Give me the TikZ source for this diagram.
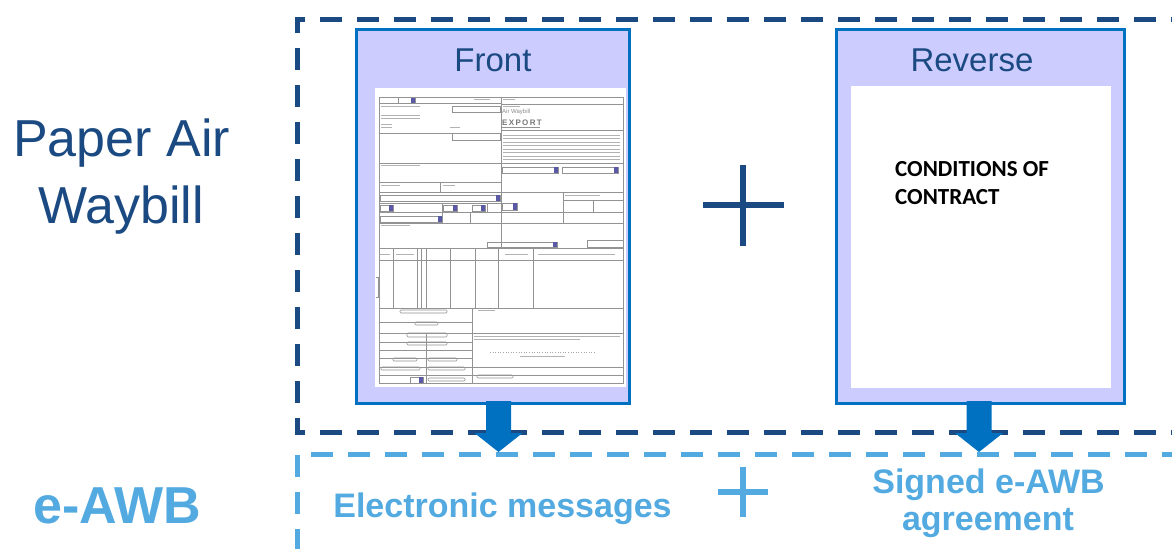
\documentclass[tikz,border=0pt]{standalone}
\usepackage{fontspec}
\setmainfont{Liberation Sans}
\newfontfamily\calfont{Carlito}
\definecolor{navy}{HTML}{1B4A82}
\definecolor{cardblue}{HTML}{0070C0}
\definecolor{cardfill}{HTML}{CCCCFF}
\definecolor{lightblue}{HTML}{52AAE0}
\begin{document}
\begin{tikzpicture}[x=1pt,y=-1pt,
  card/.style={draw=cardblue, line width=3pt, fill=cardfill, inner sep=0pt, anchor=north west},
  page/.style={fill=white, inner sep=0pt, anchor=north west},
  cardtitle/.style={text=navy, font=\fontsize{33}{40}\selectfont, inner sep=0pt, anchor=base},
  bigtitle/.style={text=navy, font=\fontsize{52}{62}\selectfont, inner sep=0pt},
  etitle/.style={text=lightblue, font=\bfseries\fontsize{34}{40}\selectfont, inner sep=0pt, anchor=base},
  condtext/.style={text=black, font=\calfont\bfseries\fontsize{23}{28}\selectfont, inner sep=0pt, anchor=base west},
  darkdash/.style={draw=navy, line width=5pt, dash pattern=on 22pt off 15pt},
  lightdash/.style={draw=lightblue, line width=5pt, dash pattern=on 22pt off 15pt},
  blockarrow/.style={fill=cardblue},
  fl/.style={draw=gray!85, line width=0.6pt},
  ft/.style={draw=gray!60, line width=0.9pt},
  fbox/.style={draw=gray!85, line width=0.6pt},
  fbtn/.style={draw=gray!85, line width=0.6pt, rounded corners=1pt},
  fsq/.style={fill=gray!70!blue}
]
\useasboundingbox (0,0) rectangle (1172,549);
\clip (0,0) rectangle (1172,549);

% dashed frames
\draw[darkdash, dash phase=21pt] (1172,19) -- (297,19) -- (297,432) -- (1172,432);
\draw[lightdash, dash phase=12pt] (1172,454) -- (297,454) -- (297,549);

% left titles
\node[bigtitle, anchor=base west] (paper) at (13,156) {Paper Air};
\node[bigtitle, anchor=base] (waybill) at (121,223) {Waybill};
\node[text=lightblue, font=\bfseries\fontsize{52}{62}\selectfont, inner sep=0pt, anchor=base] (eawb) at (117.5,523) {e-AWB};

% cards
\node[card, minimum width=273pt, minimum height=374pt] (front) at (355,28) {};
\node[card, minimum width=288pt, minimum height=374pt] (reverse) at (835,28) {};
\node[cardtitle] (fronttitle) at (493,71) {Front};
\node[cardtitle] (reversetitle) at (972,71) {Reverse};
\node[page, minimum width=251pt, minimum height=299pt] (form) at (375,88) {};
\node[page, minimum width=260pt, minimum height=302pt] (revpage) at (851,86) {};
\node[condtext] (cond1) at (895,176) {CONDITIONS OF};
\node[condtext] (cond2) at (895,204) {CONTRACT};

% ---- air waybill form (front) ----
\draw[fl] (379,97) rectangle (623,383);
\draw[fl] (501,97) -- (501,248);
\foreach \y in {103,133,163,182,192,203,212}{\draw[fl] (379,\y) -- (501,\y);}
\foreach \y in {104,130,163,192,212}{\draw[fl] (501,\y) -- (623,\y);}
\draw[fl] (563,192) -- (563,223);
\draw[fl] (563,200) -- (623,200);
\draw[fl] (593,200) -- (593,212);
\draw[fl] (440,182) -- (440,192);
\draw[fl] (442,203) -- (442,223);
\draw[fl] (470,212) -- (470,223);
\draw[fl] (487,203) -- (487,212);
\draw[fl] (379,223) -- (623,223);
\draw[fl] (379,248) -- (623,248);
\draw[fl] (379,260) -- (623,260);
\foreach \x in {393,417,421,426,450,475,498,533}{\draw[fl] (\x,248) -- (\x,308);}
\draw[fl] (379,308) -- (623,308);
\draw[fl] (472,308) -- (472,383);
\draw[fl] (426,333) -- (426,383);
\foreach \y in {322,333,342,350,358,367,375}{\draw[fl] (379,\y) -- (472,\y);}
\foreach \y in {333,367,375}{\draw[fl] (472,\y) -- (623,\y);}
\draw[fl] (376,277) -- (378,277) -- (378,297) -- (376,297);
% boxes and dropdowns
\draw[fbox] (398,97) rectangle (415,103);
\fill[fsq] (411,98) rectangle (415,103);
\draw[fbox] (452,106) rectangle (500,112);
\draw[fbox] (452,133) rectangle (500,140);
\draw[fbox] (502,167) rectangle (558,173);
\fill[fsq] (554,167) rectangle (558,173);
\draw[fbox] (562,167) rectangle (618,173);
\fill[fsq] (614,167) rectangle (618,173);
\draw[fbox] (380,195) rectangle (500,201);
\fill[fsq] (496,195) rectangle (500,201);
\draw[fbox] (380,205) rectangle (393,211);
\fill[fsq] (389,205) rectangle (393,211);
\draw[fbox] (443,205) rectangle (457,211);
\fill[fsq] (453,205) rectangle (457,211);
\draw[fbox] (472,205) rectangle (485,211);
\fill[fsq] (481,205) rectangle (485,211);
\draw[fbox] (380,216) rectangle (442,222);
\fill[fsq] (438,216) rectangle (442,222);
\draw[fbox] (502,203) rectangle (517,210);
\fill[fsq] (513,203) rectangle (517,210);
\draw[fbox] (487,242) rectangle (557,247);
\fill[fsq] (553,242) rectangle (557,247);
\draw[fbox] (587,240) rectangle (623,247);
\draw[fbox] (410,377) rectangle (423,383);
\fill[fsq] (419,377) rectangle (423,383);
% buttons
\draw[fbtn] (400,310) rectangle (447,313);
\draw[fbtn] (415,322) rectangle (438,325);
\draw[fbtn] (407,333) rectangle (447,337);
\draw[fbtn] (407,342) rectangle (447,345);
\draw[fbtn] (393,358) rectangle (417,361);
\draw[fbtn] (428,358) rectangle (457,361);
\draw[fbtn] (381,367) rectangle (420,370);
\draw[fbtn] (428,367) rectangle (465,370);
\draw[fbtn] (428,378) rectangle (465,381);
\draw[fbtn] (477,375) rectangle (513,378);
% small printed text (rendered as grey strokes)
\foreach \y in {135,138.5,142,145.5,149,152.5,156,159.5}{\draw[ft] (503,\y) -- (620,\y);}
\foreach \y in {106,115,118}{\draw[ft] (381,\y) -- (420,\y);}
\foreach \y in {124,127}{\draw[ft] (381,\y) -- (392,\y);}
\draw[ft] (450,127) -- (460,127);
\draw[ft] (381,165) -- (420,165);
\draw[ft] (381,185) -- (400,185);
\draw[ft] (443,185) -- (455,185);
\draw[ft] (381,225) -- (410,225);
\draw[ft] (380,254) -- (390,254);
\draw[ft] (396,254) -- (414,254);
\draw[ft] (538,254) -- (615,254);
\draw[ft] (505,254) -- (528,254);
\draw[ft] (478,310) -- (495,310);
\draw[ft] (474,336) -- (620,336);
\draw[ft] (474,339) -- (580,339);
\draw[gray!70, line width=0.6pt, dotted] (490,352) -- (595,352);
\draw[ft] (520,356) -- (565,356);
\draw[ft] (474,99) -- (490,99);
\draw[ft] (503,99) -- (515,99);
\draw[ft] (503,106) -- (520,106);
\draw[ft] (565,195) -- (600,195);
\node[inner sep=0pt, anchor=base west, text=gray!90, font=\fontsize{6}{7}\selectfont] (awbtext) at (502,113) {Air Waybill};
\node[inner sep=0pt, anchor=base west, text=gray!95!black, font=\bfseries\fontsize{8}{9}\selectfont] (exporttext) at (502,125) {E\,X\,P\,O\,R\,T};
\draw[gray!85, line width=0.6pt] (502,127) -- (540,127);

% plus signs
\draw[navy, line width=6pt] (703,205) -- (784,205);
\draw[navy, line width=6pt] (743,165) -- (743,246);
\draw[lightblue, line width=5.5pt] (718,492) -- (768,492);
\draw[lightblue, line width=5.5pt] (743,467) -- (743,517);

% block arrows
\coordinate (fa) at (498.5,401);
\coordinate (ra) at (979,401);
\fill[blockarrow] (fa) ++(-12.5,0) -- ++(0,32) -- ++(-11.5,0) -- ++(24,19) -- ++(24,-19) -- ++(-11.5,0) -- ++(0,-32) -- cycle;
\fill[blockarrow] (ra) ++(-12.5,0) -- ++(0,32) -- ++(-11.5,0) -- ++(24,19) -- ++(24,-19) -- ++(-11.5,0) -- ++(0,-32) -- cycle;

% e-AWB row texts
\node[etitle] (emsg) at (502.5,517) {Electronic messages};
\node[etitle] (signed) at (988.5,493) {Signed e-AWB};
\node[etitle] (agree) at (988,530) {agreement};
\end{tikzpicture}
\end{document}
